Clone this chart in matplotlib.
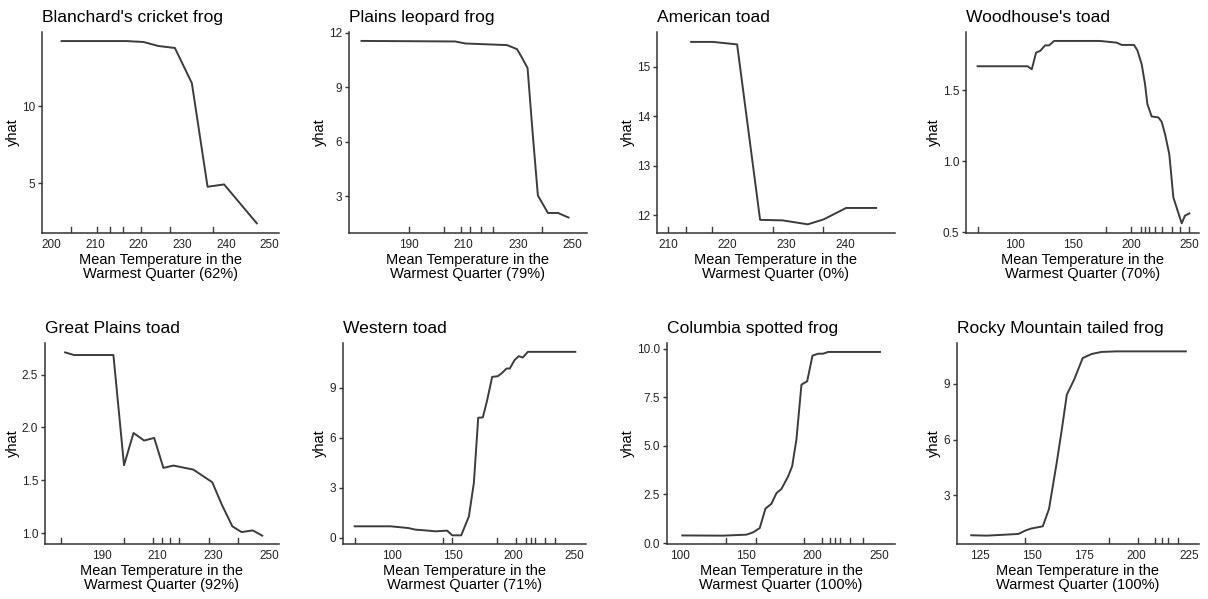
import matplotlib.pyplot as plt

plt.rcParams['font.family'] = ['Liberation Sans', 'DejaVu Sans']

# partial dependence of yhat on mean temperature in the warmest quarter
titles = ["Blanchard's cricket frog", "Plains leopard frog", "American toad", "Woodhouse's toad",
          "Great Plains toad", "Western toad", "Columbia spotted frog", "Rocky Mountain tailed frog"]
pcts = ["62%", "79%", "0%", "70%", "92%", "71%", "100%", "100%"]

cricket_x = [202.3, 217.2, 221.1, 224.5, 228.3, 232.2, 235.8, 239.6, 247.1]
cricket_y = [14.24, 14.24, 14.18, 13.92, 13.79, 11.5, 4.76, 4.91, 2.38]
cricket_rug = [204.4, 210.4, 213.3, 216.3, 220.6, 227.2, 237.0]

leopard_x = [172.4, 206.9, 210.6, 226.0, 229.7, 231.5, 233.6, 235.5, 237.4, 241.1, 244.8, 248.7]
leopard_y = [11.54, 11.51, 11.40, 11.31, 11.09, 10.63, 10.05, 6.43, 3.05, 2.09, 2.09, 1.84]
leopard_rug = [190.0, 202.8, 209.1, 212.4, 216.5, 220.8, 238.9]

american_x = [213.9, 217.6, 221.7, 225.6, 229.4, 233.7, 236.4, 240.2, 245.3]
american_y = [15.50, 15.50, 15.45, 11.91, 11.90, 11.82, 11.92, 12.15, 12.15]
american_rug = [210.0, 213.1, 217.4, 227.8, 236.3]

woodhouse_x = [67.8, 110.9, 114.5, 118.2, 121.7, 126.0, 129.4, 133.7, 173.3, 187.7, 192.0, 202.6,
               205.5, 209.2, 212.1, 214.1, 217.8, 223.6, 226.4, 229.3, 233.0, 236.5, 243.7, 246.5, 250.3]
woodhouse_y = [1.668, 1.668, 1.647, 1.764, 1.776, 1.815, 1.815, 1.846, 1.846, 1.834, 1.818, 1.818,
               1.780, 1.682, 1.542, 1.402, 1.315, 1.308, 1.278, 1.192, 1.049, 0.745, 0.563, 0.617, 0.633]
woodhouse_rug = [67.8, 178.5, 199.7, 208.3, 212.1, 215.8, 220.7, 226.4, 235.1, 242.2, 250.3]

greatplains_x = [176.9, 180.1, 194.2, 198.0, 201.4, 205.2, 208.8, 212.1, 215.7, 222.8, 229.6,
                 233.0, 236.8, 240.1, 244.1, 247.5]
greatplains_y = [2.711, 2.686, 2.686, 1.642, 1.948, 1.876, 1.901, 1.617, 1.639, 1.601, 1.481,
                 1.270, 1.063, 1.009, 1.025, 0.975]
greatplains_rug = [175.6, 198.1, 208.2, 211.5, 214.5, 217.7, 228.4, 238.9]

western_x = [69.3, 98.9, 113.2, 119.5, 126.9, 135.9, 145.5, 149.7, 157.1, 160.1, 163.4, 167.5,
             171.1, 174.9, 178.5, 182.6, 187.3, 190.8, 194.4, 197.1, 201.0, 204.5, 207.8, 212.0, 251.1]
western_y = [0.68, 0.68, 0.58, 0.48, 0.44, 0.38, 0.42, 0.14, 0.14, 0.68, 1.27, 3.27,
             7.19, 7.21, 8.25, 9.64, 9.68, 9.88, 10.14, 10.14, 10.64, 10.88, 10.80, 11.14, 11.14]
western_rug = [69.3, 142.3, 149.7, 186.7, 202.6, 210.8, 214.7, 218.2, 225.9, 234.7]

columbia_x = [102.0, 132.7, 150.3, 155.3, 160.3, 164.6, 169.1, 172.9, 176.6, 181.7, 184.7, 187.9,
              191.7, 196.0, 200.0, 204.3, 208.0, 211.8, 250.8]
columbia_y = [0.39, 0.38, 0.43, 0.55, 0.77, 1.77, 2.02, 2.57, 2.78, 3.43, 3.95, 5.32,
              8.15, 8.32, 9.64, 9.74, 9.74, 9.83, 9.83]
columbia_rug = [135.2, 157.8, 193.5, 206.8, 213.1, 216.8, 220.6, 228.1, 238.2]

tailed_x = [121.0, 128.5, 143.6, 146.8, 149.6, 155.2, 158.2, 161.9, 164.3, 166.7, 170.2, 174.3,
            178.6, 183.3, 190.5, 223.6]
tailed_y = [0.86, 0.84, 0.93, 1.11, 1.22, 1.34, 2.28, 4.78, 6.54, 8.42, 9.23, 10.39,
            10.61, 10.72, 10.75, 10.75]
tailed_rug = [146.5, 187.0, 200.8, 208.8, 212.0, 215.1, 219.9]

xs = [cricket_x, leopard_x, american_x, woodhouse_x, greatplains_x, western_x, columbia_x, tailed_x]
ys = [cricket_y, leopard_y, american_y, woodhouse_y, greatplains_y, western_y, columbia_y, tailed_y]
rugs = [cricket_rug, leopard_rug, american_rug, woodhouse_rug, greatplains_rug, western_rug,
        columbia_rug, tailed_rug]

xticks = [[200, 210, 220, 230, 240, 250], [190, 210, 230, 250], [210, 220, 230, 240],
          [100, 150, 200, 250], [190, 210, 230, 250], [100, 150, 200, 250],
          [100, 150, 200, 250], [125, 150, 175, 200, 225]]
yticks = [[5, 10], [3, 6, 9, 12], [12, 13, 14, 15], [0.5, 1.0, 1.5],
          [1.0, 1.5, 2.0, 2.5], [0, 3, 6, 9], [0.0, 2.5, 5.0, 7.5, 10.0], [3, 6, 9]]
ytick_fmt = ['{:g}', '{:g}', '{:g}', '{:.1f}', '{:.1f}', '{:g}', '{:.1f}', '{:g}']

xlims = [(197.8, 252.2), (167.8, 255.5), (208.1, 248.5), (57.8, 258.6),
         (169.7, 253.5), (59.7, 259.9), (90.5, 262.1), (114.2, 229.9)]
ylims = [(1.75, 14.83), (0.99, 12.03), (11.645, 15.70), (0.495, 1.909),
         (0.896, 2.80), (-0.38, 11.67), (-0.05, 10.29), (0.39, 11.2)]

# panel boxes in pixels: left, right, top, bottom
W, H = 1208, 599
lefts = [42, 349, 657, 966, 45, 343, 667, 957]
rights = [279, 587, 895, 1199, 279, 586, 895, 1199]
tops = [32, 32, 32, 32, 343, 343, 343, 343]
bottoms = [233, 233, 233, 233, 544, 544, 544, 544]

fig = plt.figure(figsize=(W / 100, H / 100), dpi=100)
ink = '#333333'

for i in range(8):
    ax = fig.add_axes([lefts[i] / W, 1 - bottoms[i] / H,
                       (rights[i] - lefts[i]) / W, (bottoms[i] - tops[i]) / H])
    ax.plot(xs[i], ys[i], color='#3c3c3c', lw=1.4)
    for r in rugs[i]:
        ax.axvline(r, ymin=0, ymax=0.03, color='#3c3c3c', lw=1.0)
    ax.set_xlim(*xlims[i])
    ax.set_ylim(*ylims[i])
    ax.set_xticks(xticks[i])
    ax.set_yticks(yticks[i])
    ax.set_yticklabels([ytick_fmt[i].format(v) for v in yticks[i]])
    for s in ['top', 'right']:
        ax.spines[s].set_visible(False)
    for s in ['left', 'bottom']:
        ax.spines[s].set_color(ink)
        ax.spines[s].set_linewidth(1.1)
    ax.tick_params(axis='y', direction='out', length=3, width=1, color=ink,
                   labelsize=8.5, labelcolor='#222222', pad=2)
    ax.tick_params(axis='x', length=0, labelsize=8.5, labelcolor='#222222', pad=4)
    ax.set_title(titles[i], loc='left', fontsize=12.6, pad=7)
    ax.set_ylabel('yhat', fontsize=10.5, labelpad=1.5)
    ax.set_xlabel('Mean Temperature in the\nWarmest Quarter (' + pcts[i] + ')',
                  fontsize=10.5, labelpad=2, linespacing=1.0)

fig.savefig('out.png', dpi=100, facecolor='white')
